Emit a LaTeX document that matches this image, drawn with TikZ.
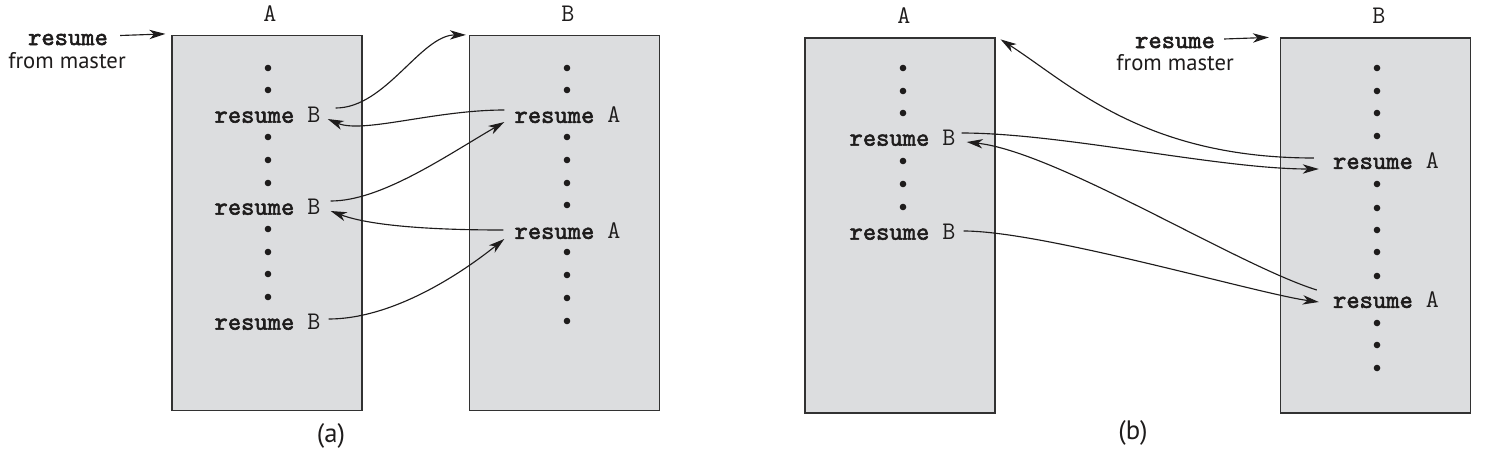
\documentclass[tikz,border=0pt]{standalone}
\usepackage{fontspec}
\setsansfont{PT Sans}
\newfontfamily\kwfont{lmmono10-regular.otf}[FakeBold=2.2]
\usetikzlibrary{arrows.meta,calc}
\definecolor{boxgray}{RGB}{220,221,223}
\definecolor{edgegray}{RGB}{50,50,50}
\definecolor{ink}{RGB}{30,28,28}
\newcommand{\rsm}{{\kwfont resume}}

\begin{document}
\begin{tikzpicture}[x=0.75pt,y=0.75pt,
    proc/.style={draw=edgegray, fill=boxgray, line width=0.9pt, minimum width=142.5pt, minimum height=281.25pt, inner sep=0pt},
    code/.style={font=\ttfamily\fontsize{19}{20}\selectfont, inner sep=0pt, text=ink},
    master/.style={font=\sffamily\fontsize{17}{17}\selectfont, inner sep=0pt, text=ink},
    flow/.style={draw=ink, line width=0.85pt, -{Stealth[length=12pt,width=7pt,inset=3.5pt]}}]
    \useasboundingbox (0,0) rectangle (1492,-461);

    % (a) the two programs
    \node[proc] (aA) at (267,-223) {};
    \node[proc] (aB) at (564.5,-223) {};
    \node[code] (aLA) at (270,-14) {A};
    \node[code] (aLB) at (568,-14) {B};

    % Dots
    \foreach \y in {68,90,137,160,183,229,252,274,297} \fill[ink] (268,-\y) circle (3.3);
    \foreach \y in {68,90,137,160,183,205,252,275,298,321} \fill[ink] (567,-\y) circle (3.3);

    % Resume statements
    \node[code] (aRB1) at (267.5,-115) {\rsm{} B};
    \node[code] (aRB2) at (267.5,-207) {\rsm{} B};
    \node[code] (aRB3) at (267.5,-322) {\rsm{} B};
    \node[code] (aRA1) at (567.5,-115) {\rsm{} A};
    \node[code] (aRA2) at (567.5,-231) {\rsm{} A};

    % Start from master
    \node[code] (aRes) at (68,-39.5) {\rsm};
    \node[master] (aFrom) at (67,-60.5) {from master};
    \draw[flow] ($(aRes.east)+(12,4)$) -- ($(aA.north west)+(-6,1)$);

    % Transfers of control
    \draw[flow] ($(aRB1.east)+(15,7)$) .. controls +(50,0) and +(-45,0) .. ($(aB.north west)+(-3,0)$);
    \draw[flow] ($(aRA1.west)+(-10,5)$) .. controls +(-70,0) and +(35,-15) .. ($(aRB1.east)+(7,-4)$);
    \draw[flow] ($(aRB2.east)+(10,6)$) .. controls +(50,0) and +(-60,-35) .. ($(aRA1.west)+(-10,-7)$);
    \draw[flow] ($(aRA2.west)+(-11,1)$) .. controls +(-70,0) and +(40,-15) .. ($(aRB2.east)+(10,-4)$);
    \draw[flow] ($(aRB3.east)+(8,3)$) .. controls +(60,0) and +(-50,-40) .. ($(aRA2.west)+(-10,-8)$);

    \node[master, font=\sffamily\fontsize{20}{20}\selectfont] (capA) at (331,-436) {(a)};

    % (b) the two programs
    \node[proc] (bA) at (900,-225.5) {};
    \node[proc] (bB) at (1375.5,-225.5) {};
    \node[code] (bLA) at (904,-16) {A};
    \node[code] (bLB) at (1379,-16) {B};

    % Dots
    \foreach \y in {68,91,113,161,184,207} \fill[ink] (903,-\y) circle (3.3);
    \foreach \y in {68,91,113,136,184,208,230,252,276,323,345,368} \fill[ink] (1377,-\y) circle (3.3);

    % Resume statements
    \node[code] (bRB1) at (902.5,-138) {\rsm{} B};
    \node[code] (bRB2) at (902.5,-232) {\rsm{} B};
    \node[code] (bRA1) at (1386,-161) {\rsm{} A};
    \node[code] (bRA2) at (1386,-300) {\rsm{} A};

    % Start from master
    \node[code] (bRes) at (1175,-42.5) {\rsm};
    \node[master] (bFrom) at (1175,-62.5) {from master};
    \draw[flow] ($(bRes.east)+(9,3.5)$) -- ($(bB.north west)+(-11,0)$);

    % Transfers of control
    \draw[flow] ($(bRB1.east)+(6,5)$) .. controls +(100,0) and +(-100,0) .. ($(bRA1.west)+(-14,-8)$);
    \draw[flow] ($(bRA1.west)+(-19,3)$) .. controls +(-170,0) and +(70,-45) .. ($(bA.north east)+(5,-2)$);
    \draw[flow] ($(bRA2.west)+(-16,10)$) .. controls +(-80,25) and +(90,-10) .. ($(bRB1.east)+(11,-4)$);
    \draw[flow] ($(bRB2.east)+(8,1)$) .. controls +(80,0) and +(-60,8) .. ($(bRA2.west)+(-14,-2)$);

    \node[master, font=\sffamily\fontsize{20}{20}\selectfont] (capB) at (1133,-433) {(b)};
\end{tikzpicture}
\end{document}
